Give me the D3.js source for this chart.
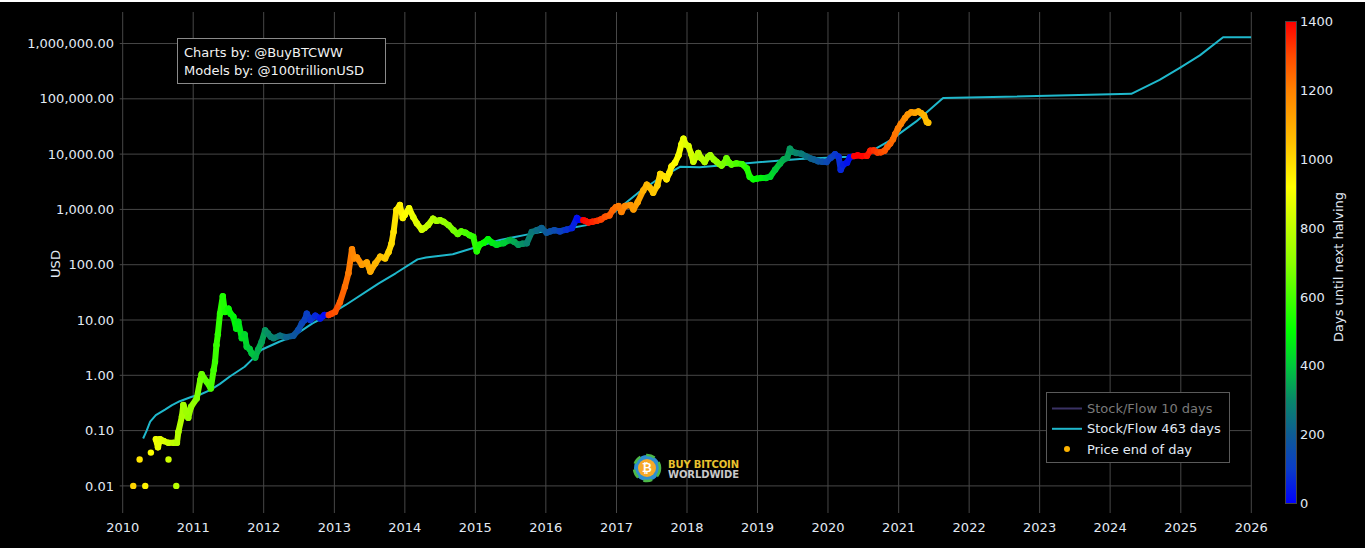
<!DOCTYPE html>
<html>
<head>
<meta charset="utf-8">
<script src="https://cdn.jsdelivr.net/npm/d3@7"></script>
<style>
  html, body { margin: 0; padding: 0; background: #fff; }
  svg { display: block; }
  text { font-family: "DejaVu Sans", Verdana, sans-serif; }
</style>
</head>
<body>
<div id="chart"></div>
<script>
// price end of day (decimal year, USD)
const priceT = [2010.47,2010.50,2010.53,2010.58,2010.65,2010.72,2010.77,2010.79,2010.84,2010.86,2010.90,2010.93,2010.97,
  2011.05,2011.10,2011.12,2011.19,2011.25,2011.29,2011.31,2011.33,2011.35,2011.38,2011.42,2011.45,2011.50,2011.53,2011.57,
  2011.61,2011.64,2011.69,2011.73,2011.76,2011.80,2011.83,2011.88,2011.92,2011.97,
  2012.02,2012.06,2012.10,2012.14,2012.23,2012.32,2012.42,2012.49,2012.54,2012.58,2012.61,2012.66,2012.73,2012.80,2012.86,
  2012.92,2012.96,2013.01,2013.08,2013.15,2013.20,2013.25,2013.28,2013.32,2013.39,2013.46,2013.51,2013.58,2013.65,2013.72,
  2013.77,2013.81,2013.84,2013.88,2013.93,2013.97,2014.00,2014.06,2014.12,2014.17,2014.24,2014.28,2014.33,2014.40,2014.45,
  2014.50,2014.55,2014.62,2014.69,2014.75,2014.80,2014.86,2014.92,2014.97,2015.02,2015.06,2015.12,2015.18,2015.24,2015.30,
  2015.40,2015.49,2015.55,2015.61,2015.67,2015.73,2015.80,2015.87,2015.94,2016.01,2016.06,2016.12,2016.20,2016.29,2016.37,
  2016.44,2016.47,2016.53,2016.56,2016.60,2016.66,2016.72,2016.78,2016.84,2016.90,2016.95,2016.99,2017.03,2017.07,2017.12,
  2017.20,2017.24,2017.30,2017.38,2017.43,2017.47,2017.52,2017.58,2017.62,2017.67,2017.71,2017.75,2017.78,2017.83,2017.88,
  2017.92,2017.95,2017.98,2018.02,2018.06,2018.09,2018.13,2018.16,2018.20,2018.25,2018.30,2018.33,2018.38,2018.42,2018.46,
  2018.49,2018.53,2018.56,2018.60,2018.63,2018.70,2018.78,2018.85,2018.89,2018.94,2018.99,2019.05,2019.12,2019.18,2019.25,
  2019.32,2019.37,2019.42,2019.46,2019.50,2019.55,2019.62,2019.70,2019.76,2019.80,2019.86,2019.92,2019.98,2020.04,2020.10,
  2020.15,2020.18,2020.22,2020.27,2020.31,2020.37,2020.42,2020.48,2020.55,2020.60,2020.65,2020.70,2020.75,2020.80,2020.84,
  2020.88,2020.92,2020.95,2020.99,2021.03,2021.09,2021.13,2021.18,2021.23,2021.28,2021.32,2021.36,2021.40,2021.42];
const priceV = [0.07,0.05,0.07,0.065,0.06,0.06,0.06,0.095,0.18,0.29,0.22,0.17,0.27,
  0.38,0.82,1.05,0.77,0.58,1.25,1.76,3.5,5.5,13,27,14,16,13,11.5,
  7,9.3,4.7,5.5,3.3,3.0,2.5,2.1,2.9,4.0,
  6.5,5.7,5.0,4.7,5.2,4.9,5.2,6.6,8.7,10,13,10,12,10.7,12.3,
  12.3,13,14,21,40,70,190,130,135,100,110,75,105,140,130,
  170,240,390,980,1200,700,800,1050,720,560,430,460,520,680,620,
  640,600,520,420,360,400,380,340,320,175,230,250,290,250,230,
  245,280,260,230,240,245,390,420,460,380,400,420,400,430,460,
  700,650,640,620,580,600,620,660,740,780,980,1100,1150,900,1150,
  1200,1000,1350,2200,2800,2500,2000,2700,4400,4000,3500,4600,6000,7000,9500,
  15000,19000,15000,14000,10000,7300,9000,10500,8500,7200,9000,9600,8000,7300,6600,
  6200,7000,8400,7000,6500,6800,6600,5500,3900,3500,3600,3700,3700,3900,5200,
  6800,8000,8500,12500,11000,10500,10200,9000,8300,8000,7400,7300,7200,8600,10000,
  9000,5200,6500,7000,8800,9200,9500,9200,9300,11500,11700,10700,10800,11500,13500,
  15500,18500,23000,29000,35000,45000,52000,57000,56000,59000,55000,50000,38000,37000];

// isolated early prints
const sparseT = [2010.15, 2010.24, 2010.32, 2010.40, 2010.65, 2010.76];
const sparseV = [0.01, 0.03, 0.01, 0.04, 0.03, 0.01];

// stock/flow 463 days model
const sfT = [2010.29,2010.34,2010.39,2010.47,2010.60,2010.70,2010.81,2010.98,2011.10,2011.24,2011.38,2011.52,2011.73,
  2011.83,2011.97,2012.22,2012.41,2012.69,2012.92,2013.16,2013.63,2013.87,2014.18,2014.30,2014.68,2014.97,2015.35,
  2015.73,2016.06,2016.39,2016.58,2016.95,2017.33,2017.57,2017.90,2018.18,2018.89,2019.60,2020.30,2020.54,2020.88,
  2021.25,2021.63,2024.30,2024.70,2024.98,2025.27,2025.60,2026.00];
const sfV = [0.072,0.10,0.145,0.19,0.24,0.29,0.34,0.41,0.45,0.54,0.70,0.95,1.43,
  1.9,2.9,4.05,5.0,8.7,12.3,18.7,46,70,125,135,155,200,280,
  350,420,470,520,850,2100,3400,5900,5800,6900,8200,9000,10000,17700,
  39000,103000,123000,220000,360000,610000,1300000,1300000];

const halvings = ["2012-11-28", "2016-07-09", "2020-05-11", "2024-04-20"];
const yTicks = [0.01, 0.1, 1, 10, 100, 1000, 10000, 100000, 1000000];
const cbTicks = [0, 200, 400, 600, 800, 1000, 1200, 1400];
const cbStops = [0, 100, 200, 300, 400, 500, 700, 920, 1050, 1200, 1300, 1400];
const cbColors = ["#0000ff","#0a3cc8","#0e5c94","#08876a","#00c83c","#00ff00",
  "#8cff00","#ffff00","#ffc000","#ff8200","#ff4a00","#ff0000"];

const W = 1365, H = 548;
const pLeft = 122.7, pRight = 1251.3, pTop = 12, pBottom = 513;
const textCol = "#e2eaf4", gridCol = "#474747";

function toDate(t) {
  const yr = Math.floor(t);
  const a = new Date(yr, 0, 1), b = new Date(yr + 1, 0, 1);
  return new Date(+a + (t - yr) * (b - a));
}
const halvingDates = halvings.map(s => new Date(s + "T00:00:00"));
function daysToHalving(d) {
  const h = halvingDates.find(h => h > d);
  return (h - d) / 864e5;
}

const x = d3.scaleTime().domain([new Date(2010, 0, 1), new Date(2026, 0, 1)]).range([pLeft, pRight]);
const y = d3.scaleLog().domain([Math.pow(10, -2.49), Math.pow(10, 6.57)]).range([pBottom, pTop]);
const color = d3.scaleLinear().domain(cbStops).range(cbColors).clamp(true);
const cbY = d3.scaleLinear().domain([0, 1400]).range([503.5, 21.5]);

const svg = d3.select("#chart").append("svg").attr("width", W).attr("height", H);
svg.append("rect").attr("width", W).attr("height", H).attr("fill", "#000");
svg.append("rect").attr("width", W).attr("height", 2).attr("fill", "#fff");

// grid
const years = x.ticks(d3.timeYear.every(1));
svg.append("g").selectAll("line").data(years).join("line")
  .attr("x1", d => x(d)).attr("x2", d => x(d)).attr("y1", pTop).attr("y2", pBottom)
  .attr("stroke", gridCol);
svg.append("g").selectAll("line").data(yTicks).join("line")
  .attr("x1", pLeft - 3).attr("x2", pRight).attr("y1", d => y(d)).attr("y2", d => y(d))
  .attr("stroke", gridCol);

// axes labels
svg.append("g").selectAll("text").data(years).join("text")
  .attr("x", d => x(d)).attr("y", 532).attr("text-anchor", "middle")
  .attr("font-size", 13).attr("fill", textCol).text(d3.timeFormat("%Y"));
svg.append("g").selectAll("text").data(yTicks).join("text")
  .attr("x", 114).attr("y", d => y(d)).attr("dy", "0.36em").attr("text-anchor", "end")
  .attr("font-size", 13).attr("fill", textCol).text(d3.format(",.2f"));
svg.append("text").attr("transform", "translate(60,264) rotate(-90)")
  .attr("text-anchor", "middle").attr("font-size", 13).attr("fill", textCol).text("USD");

// plot
svg.append("clipPath").attr("id", "clip").append("rect")
  .attr("x", pLeft).attr("y", pTop).attr("width", pRight - pLeft).attr("height", pBottom - pTop);
const plot = svg.append("g").attr("clip-path", "url(#clip)");

// model line goes under the price marks
const sfLine = d3.line().x(d => x(d.d)).y(d => y(d.v));
plot.append("path").datum(sfT.map((t, i) => ({ d: toDate(t), v: sfV[i] })))
  .attr("d", sfLine).attr("fill", "none").attr("stroke", "#1fb8cc").attr("stroke-width", 2)
  .attr("stroke-linejoin", "round");

const price = priceT.map((t, i) => ({ d: toDate(t), v: priceV[i] }));
const sparse = sparseT.map((t, i) => ({ d: toDate(t), v: sparseV[i] }));

plot.append("g").selectAll("line").data(price.slice(0, -1)).join("line")
  .attr("x1", d => x(d.d)).attr("y1", d => y(d.v))
  .attr("x2", (d, i) => x(price[i + 1].d)).attr("y2", (d, i) => y(price[i + 1].v))
  .attr("stroke", d => color(daysToHalving(d.d)))
  .attr("stroke-width", 6).attr("stroke-linecap", "round");
plot.append("g").selectAll("circle").data(price.concat(sparse)).join("circle")
  .attr("cx", d => x(d.d)).attr("cy", d => y(d.v)).attr("r", 3.2)
  .attr("fill", d => color(daysToHalving(d.d)));

// annotation
svg.append("rect").attr("x", 177.5).attr("y", 38.5).attr("width", 208).attr("height", 45)
  .attr("fill", "#000").attr("stroke", "#8a8a8a");
svg.append("text").attr("x", 184).attr("y", 57).attr("font-size", 13).attr("fill", "#f2f2f2").text("Charts by: @BuyBTCWW");
svg.append("text").attr("x", 184).attr("y", 75).attr("font-size", 13).attr("fill", "#f2f2f2").text("Models by: @100trillionUSD");

// legend
const lg = svg.append("g");
lg.append("rect").attr("x", 1046.5).attr("y", 392.5).attr("width", 183).attr("height", 70)
  .attr("fill", "#000").attr("stroke", "#5a5a5a");
const legendItems = [
  { label: "Stock/Flow 10 days", kind: "line", col: "#3a3264", txt: "#7a7a7a" },
  { label: "Stock/Flow 463 days", kind: "line", col: "#1fb8cc", txt: textCol },
  { label: "Price end of day", kind: "dot", col: "#fdb300", txt: textCol }
];
legendItems.forEach((it, i) => {
  const ly = 408.5 + i * 20.3;
  if (it.kind === "line") {
    lg.append("line").attr("x1", 1052).attr("x2", 1082).attr("y1", ly).attr("y2", ly)
      .attr("stroke", it.col).attr("stroke-width", 2);
  } else {
    lg.append("circle").attr("cx", 1067).attr("cy", ly).attr("r", 3).attr("fill", it.col);
  }
  lg.append("text").attr("x", 1087).attr("y", ly).attr("dy", "0.36em")
    .attr("font-size", 13).attr("fill", it.txt).text(it.label);
});

// colorbar
const grad = svg.append("defs").append("linearGradient").attr("id", "cb")
  .attr("x1", 0).attr("y1", 1).attr("x2", 0).attr("y2", 0);
grad.selectAll("stop").data(cbStops).join("stop")
  .attr("offset", d => d / 1400).attr("stop-color", (d, i) => cbColors[i]);
svg.append("rect").attr("x", 1285.5).attr("y", 21.5).attr("width", 11).attr("height", 482)
  .attr("fill", "url(#cb)").attr("stroke", "#444");
svg.append("g").selectAll("text").data(cbTicks).join("text")
  .attr("x", 1300).attr("y", d => cbY(d)).attr("dy", "0.36em")
  .attr("font-size", 13).attr("fill", textCol).text(d => d);
svg.append("text").attr("transform", "translate(1343,267) rotate(-90)")
  .attr("text-anchor", "middle").attr("font-size", 13).attr("fill", textCol)
  .text("Days until next halving");

// logo
const logo = svg.append("g");
logo.append("circle").attr("cx", 647).attr("cy", 468).attr("r", 13).attr("fill", "#2f8fd0");
logo.append("circle").attr("cx", 647).attr("cy", 468).attr("r", 13).attr("fill", "none")
  .attr("stroke", "#4cb848").attr("stroke-width", 2.5).attr("stroke-dasharray", "9 6");
logo.append("circle").attr("cx", 647).attr("cy", 468).attr("r", 9).attr("fill", "#f7a928");
logo.append("text").attr("x", 647).attr("y", 472).attr("text-anchor", "middle")
  .attr("font-size", 12).attr("font-weight", "bold").attr("fill", "#fff").text("₿");
logo.append("text").attr("x", 668).attr("y", 467.5).attr("font-size", 10).attr("font-weight", "bold")
  .attr("fill", "#e8c22e").attr("textLength", 71).text("BUY BITCOIN");
logo.append("text").attr("x", 668).attr("y", 477.5).attr("font-size", 10).attr("font-weight", "bold")
  .attr("fill", "#c8c8c8").attr("textLength", 71).text("WORLDWIDE");
</script>
</body>
</html>
